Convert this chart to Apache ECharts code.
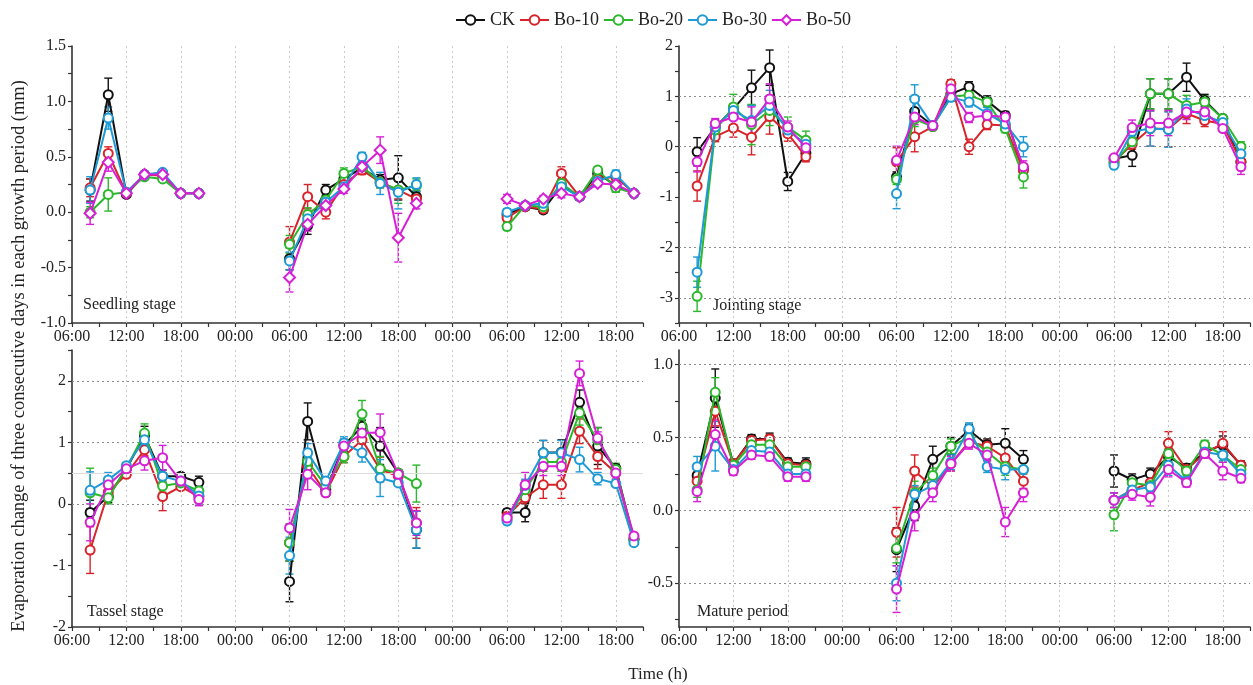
<!DOCTYPE html>
<html>
<head>
<meta charset="utf-8">
<script src="https://cdn.jsdelivr.net/npm/echarts@6/dist/echarts.min.js"></script>
<style>
  html, body { margin: 0; padding: 0; background: #fff; }
  #chart { width: 1253px; height: 685px; }
</style>
</head>
<body>
<div id="chart"></div>
<script>
// Sampling times, in hours counted from 06:00 on the first day
const timePoints = [2, 4, 6, 8, 10, 12, 14, 24, 26, 28, 30, 32, 34, 36, 38, 48, 50, 52, 54, 56, 58, 60, 62];
const dayLengths = [7, 8, 8];
const treatments = ['CK', 'Bo-10', 'Bo-20', 'Bo-30', 'Bo-50'];
const stageNames = ['Seedling stage', 'Jointing stage', 'Tassel stage', 'Mature period'];

// Seedling stage (mean and SD)
const seedlingCK     = [0.20, 1.06, 0.16, 0.34, 0.35, 0.17, 0.17, -0.42, -0.12, 0.20, 0.30, 0.40, 0.29, 0.31, 0.14, -0.02, 0.05, 0.02, 0.24, 0.14, 0.35, 0.24, 0.17];
const seedlingCKsd   = [0.10, 0.15, 0.02, 0.02, 0.02, 0.01, 0.01, 0.10, 0.08, 0.05, 0.04, 0.05, 0.05, 0.20, 0.05, 0.04, 0.03, 0.03, 0.04, 0.03, 0.03, 0.05, 0.02];
const seedlingB10    = [0.22, 0.53, 0.17, 0.34, 0.33, 0.17, 0.17, -0.27, 0.14, 0.00, 0.25, 0.38, 0.27, 0.20, 0.12, -0.05, 0.05, 0.03, 0.35, 0.14, 0.30, 0.32, 0.17];
const seedlingB10sd  = [0.08, 0.06, 0.02, 0.02, 0.02, 0.01, 0.01, 0.14, 0.11, 0.06, 0.04, 0.04, 0.05, 0.08, 0.04, 0.04, 0.03, 0.03, 0.06, 0.03, 0.03, 0.04, 0.02];
const seedlingB20    = [0.00, 0.16, 0.18, 0.32, 0.30, 0.17, 0.17, -0.29, -0.02, 0.11, 0.35, 0.41, 0.27, 0.20, 0.24, -0.13, 0.06, 0.05, 0.26, 0.14, 0.38, 0.22, 0.17];
const seedlingB20sd  = [0.05, 0.15, 0.02, 0.02, 0.02, 0.01, 0.01, 0.08, 0.06, 0.05, 0.05, 0.04, 0.05, 0.12, 0.06, 0.03, 0.03, 0.03, 0.04, 0.03, 0.03, 0.04, 0.02];
const seedlingB30    = [0.20, 0.85, 0.18, 0.34, 0.36, 0.17, 0.17, -0.44, -0.06, 0.09, 0.23, 0.50, 0.26, 0.18, 0.25, 0.00, 0.06, 0.08, 0.23, 0.14, 0.28, 0.34, 0.17];
const seedlingB30sd  = [0.12, 0.10, 0.02, 0.02, 0.02, 0.01, 0.01, 0.08, 0.06, 0.05, 0.04, 0.04, 0.10, 0.15, 0.06, 0.03, 0.03, 0.03, 0.05, 0.03, 0.03, 0.04, 0.02];
const seedlingB50    = [-0.01, 0.45, 0.17, 0.34, 0.34, 0.17, 0.17, -0.59, -0.11, 0.06, 0.21, 0.41, 0.56, -0.23, 0.08, 0.12, 0.06, 0.12, 0.17, 0.14, 0.26, 0.25, 0.17];
const seedlingB50sd  = [0.10, 0.08, 0.02, 0.02, 0.02, 0.01, 0.01, 0.13, 0.06, 0.04, 0.04, 0.04, 0.12, 0.22, 0.05, 0.04, 0.03, 0.03, 0.04, 0.03, 0.03, 0.04, 0.02];

// Jointing stage
const jointingCK     = [-0.10, 0.39, 0.75, 1.17, 1.57, -0.69, -0.13, -0.60, 0.70, 0.42, 1.05, 1.19, 0.91, 0.62, -0.44, -0.24, -0.17, 1.05, 1.05, 1.38, 0.92, 0.56, -0.30];
const jointingCKsd   = [0.28, 0.10, 0.10, 0.35, 0.35, 0.18, 0.10, 0.10, 0.20, 0.06, 0.10, 0.10, 0.10, 0.08, 0.10, 0.06, 0.22, 0.30, 0.30, 0.28, 0.12, 0.06, 0.10];
const jointingB10    = [-0.78, 0.20, 0.37, 0.19, 0.60, 0.26, -0.20, -0.30, 0.20, 0.40, 1.25, 0.00, 0.44, 0.42, -0.47, -0.30, 0.05, 0.36, 0.35, 0.66, 0.52, 0.45, -0.30];
const jointingB10sd  = [0.30, 0.10, 0.18, 0.35, 0.35, 0.15, 0.10, 0.28, 0.30, 0.06, 0.08, 0.15, 0.10, 0.08, 0.10, 0.06, 0.10, 0.35, 0.35, 0.20, 0.12, 0.06, 0.10];
const jointingB20    = [-2.97, 0.33, 0.79, 0.44, 0.72, 0.39, 0.13, -0.65, 0.55, 0.40, 1.00, 1.02, 0.89, 0.36, -0.60, -0.33, 0.10, 1.05, 1.05, 0.82, 0.89, 0.56, 0.00];
const jointingB20sd  = [0.30, 0.10, 0.25, 0.40, 0.30, 0.20, 0.18, 0.10, 0.15, 0.06, 0.08, 0.08, 0.10, 0.08, 0.22, 0.06, 0.12, 0.30, 0.30, 0.20, 0.12, 0.06, 0.10];
const jointingB30    = [-2.49, 0.39, 0.72, 0.52, 0.82, 0.33, 0.05, -0.93, 0.95, 0.42, 0.98, 0.89, 0.66, 0.45, 0.00, -0.37, 0.30, 0.36, 0.34, 0.75, 0.62, 0.48, -0.14];
const jointingB30sd  = [0.30, 0.15, 0.10, 0.30, 0.30, 0.12, 0.12, 0.30, 0.28, 0.06, 0.08, 0.10, 0.12, 0.08, 0.20, 0.06, 0.12, 0.35, 0.35, 0.20, 0.12, 0.06, 0.10];
const jointingB50    = [-0.30, 0.46, 0.59, 0.49, 0.95, 0.39, -0.02, -0.27, 0.59, 0.42, 1.15, 0.58, 0.62, 0.59, -0.40, -0.22, 0.38, 0.47, 0.47, 0.69, 0.69, 0.36, -0.40];
const jointingB50sd  = [0.20, 0.10, 0.15, 0.30, 0.30, 0.12, 0.10, 0.28, 0.15, 0.06, 0.08, 0.10, 0.10, 0.08, 0.12, 0.06, 0.15, 0.25, 0.25, 0.15, 0.10, 0.06, 0.15];

// Tassel stage
const tasselCK       = [-0.14, 0.12, 0.57, 1.11, 0.45, 0.45, 0.35, -1.26, 1.34, 0.23, 0.95, 1.26, 0.94, 0.50, -0.42, -0.14, -0.14, 0.83, 0.84, 1.65, 0.94, 0.58, -0.57];
const tasselCKsd     = [0.20, 0.10, 0.05, 0.15, 0.10, 0.05, 0.10, 0.33, 0.30, 0.05, 0.10, 0.10, 0.30, 0.05, 0.30, 0.05, 0.15, 0.20, 0.20, 0.20, 0.30, 0.05, 0.05];
const tasselB10      = [-0.75, 0.19, 0.48, 0.88, 0.12, 0.28, 0.12, -0.63, 0.61, 0.18, 0.77, 1.04, 0.56, 0.45, -0.31, -0.20, 0.10, 0.31, 0.31, 1.18, 0.77, 0.50, -0.58];
const tasselB10sd    = [0.38, 0.10, 0.05, 0.10, 0.23, 0.05, 0.10, 0.30, 0.15, 0.05, 0.10, 0.20, 0.20, 0.05, 0.25, 0.05, 0.10, 0.22, 0.22, 0.20, 0.20, 0.10, 0.05];
const tasselB20      = [0.18, 0.10, 0.58, 1.15, 0.29, 0.34, 0.21, -0.63, 0.69, 0.29, 0.77, 1.46, 0.57, 0.50, 0.33, -0.25, 0.23, 0.68, 0.68, 1.48, 1.04, 0.56, -0.58];
const tasselB20sd    = [0.40, 0.10, 0.05, 0.15, 0.10, 0.05, 0.10, 0.30, 0.20, 0.05, 0.10, 0.22, 0.20, 0.05, 0.30, 0.05, 0.15, 0.15, 0.15, 0.20, 0.20, 0.10, 0.05];
const tasselB30      = [0.22, 0.39, 0.62, 1.04, 0.45, 0.37, 0.13, -0.84, 0.83, 0.37, 0.99, 0.83, 0.42, 0.34, -0.42, -0.28, 0.30, 0.83, 0.83, 0.72, 0.41, 0.33, -0.63];
const tasselB30sd    = [0.30, 0.12, 0.05, 0.10, 0.10, 0.05, 0.15, 0.30, 0.15, 0.05, 0.10, 0.15, 0.30, 0.05, 0.30, 0.05, 0.10, 0.20, 0.20, 0.20, 0.10, 0.05, 0.05];
const tasselB50      = [-0.30, 0.31, 0.57, 0.70, 0.75, 0.37, 0.07, -0.39, 0.48, 0.18, 0.94, 1.15, 1.16, 0.48, -0.31, -0.23, 0.31, 0.61, 0.61, 2.12, 1.07, 0.50, -0.52];
const tasselB50sd    = [0.30, 0.12, 0.05, 0.15, 0.20, 0.05, 0.10, 0.30, 0.25, 0.05, 0.10, 0.15, 0.30, 0.05, 0.20, 0.05, 0.20, 0.15, 0.15, 0.20, 0.10, 0.10, 0.05];

// Mature period
const matureCK       = [0.24, 0.77, 0.32, 0.49, 0.49, 0.33, 0.32, -0.27, 0.03, 0.35, 0.44, 0.55, 0.45, 0.46, 0.35, 0.27, 0.21, 0.25, 0.37, 0.29, 0.40, 0.45, 0.31];
const matureCKsd     = [0.06, 0.20, 0.03, 0.03, 0.04, 0.03, 0.04, 0.15, 0.10, 0.09, 0.06, 0.04, 0.04, 0.10, 0.06, 0.11, 0.04, 0.04, 0.05, 0.03, 0.03, 0.06, 0.03];
const matureB10      = [0.20, 0.68, 0.32, 0.48, 0.49, 0.32, 0.31, -0.15, 0.27, 0.16, 0.32, 0.47, 0.44, 0.36, 0.20, 0.07, 0.14, 0.19, 0.46, 0.28, 0.39, 0.46, 0.31];
const matureB10sd    = [0.05, 0.10, 0.03, 0.03, 0.03, 0.03, 0.03, 0.17, 0.11, 0.05, 0.05, 0.04, 0.04, 0.08, 0.05, 0.05, 0.04, 0.04, 0.08, 0.03, 0.03, 0.08, 0.03];
const matureB20      = [0.14, 0.81, 0.31, 0.45, 0.45, 0.30, 0.30, -0.26, 0.12, 0.24, 0.44, 0.50, 0.40, 0.30, 0.28, -0.03, 0.19, 0.17, 0.39, 0.27, 0.45, 0.38, 0.28];
const matureB20sd    = [0.05, 0.10, 0.03, 0.03, 0.03, 0.03, 0.03, 0.10, 0.08, 0.05, 0.05, 0.04, 0.05, 0.06, 0.08, 0.11, 0.04, 0.04, 0.05, 0.03, 0.03, 0.05, 0.03];
const matureB30      = [0.30, 0.44, 0.28, 0.41, 0.40, 0.25, 0.25, -0.50, 0.11, 0.17, 0.33, 0.56, 0.30, 0.28, 0.28, 0.07, 0.14, 0.16, 0.31, 0.20, 0.40, 0.38, 0.25];
const matureB30sd    = [0.07, 0.17, 0.03, 0.03, 0.03, 0.03, 0.03, 0.12, 0.06, 0.05, 0.05, 0.04, 0.04, 0.07, 0.06, 0.05, 0.04, 0.04, 0.07, 0.03, 0.03, 0.04, 0.03];
const matureB50      = [0.13, 0.52, 0.27, 0.38, 0.37, 0.23, 0.23, -0.54, -0.04, 0.12, 0.32, 0.46, 0.38, -0.08, 0.12, 0.07, 0.11, 0.09, 0.28, 0.19, 0.39, 0.27, 0.22];
const matureB50sd    = [0.07, 0.10, 0.03, 0.03, 0.03, 0.03, 0.03, 0.16, 0.10, 0.06, 0.05, 0.04, 0.04, 0.10, 0.06, 0.05, 0.04, 0.06, 0.05, 0.03, 0.03, 0.06, 0.03];

// Axis ticks
const xLabelHours = [0, 6, 12, 18, 24, 30, 36, 42, 48, 54, 60];
const xTickHours  = [0, 3, 6, 9, 12, 15, 18, 21, 24, 27, 30, 33, 36, 39, 42, 45, 48, 51, 54, 57, 60, 63];
const seedlingYLabels = [-1.0, -0.5, 0.0, 0.5, 1.0, 1.5];
const seedlingYTicks  = [-1.0, -0.75, -0.5, -0.25, 0.0, 0.25, 0.5, 0.75, 1.0, 1.25, 1.5];
const jointingYLabels = [-3, -2, -1, 0, 1, 2];
const jointingYTicks  = [-3.5, -3, -2.5, -2, -1.5, -1, -0.5, 0, 0.5, 1, 1.5, 2];
const tasselYLabels   = [-2, -1, 0, 1, 2];
const tasselYTicks    = [-2, -1.5, -1, -0.5, 0, 0.5, 1, 1.5, 2, 2.5];
const matureYLabels   = [-0.5, 0.0, 0.5, 1.0];
const matureYTicks    = [-0.75, -0.5, -0.25, 0.0, 0.25, 0.5, 0.75, 1.0];

// Reference lines in each panel
const jointingHLines = [1, 0, -2, -3];
const tasselHLines   = [2, 1, 0];
const tasselFaintHLines = [0.5];
const matureHLines   = [1.0, 0.5, 0.0, -0.5];
const dayGridHours   = [6, 12, 18, 24, 30, 36, 42, 48, 54, 60];

const colors = ['#111111', '#d8232a', '#2cb82c', '#1e9ad6', '#d620d6'];
const FONT = '"Liberation Serif", "Times New Roman", serif';

const panels = [
  { stage: stageNames[0], yMin: -1.0, yMax: 1.5, yLabels: seedlingYLabels, yTicks: seedlingYTicks, digits: 1,
    grid: { left: 72, top: 46, width: 571, height: 277 },
    means: [seedlingCK, seedlingB10, seedlingB20, seedlingB30, seedlingB50],
    sds: [seedlingCKsd, seedlingB10sd, seedlingB20sd, seedlingB30sd, seedlingB50sd],
    hLines: [], faint: [], diamondLast: true, labelPos: [83, 297] },
  { stage: stageNames[1], yMin: -3.5, yMax: 2, yLabels: jointingYLabels, yTicks: jointingYTicks, digits: 0,
    grid: { left: 679, top: 46, width: 571, height: 277 },
    means: [jointingCK, jointingB10, jointingB20, jointingB30, jointingB50],
    sds: [jointingCKsd, jointingB10sd, jointingB20sd, jointingB30sd, jointingB50sd],
    hLines: jointingHLines, faint: [], diamondLast: false, labelPos: [713, 298] },
  { stage: stageNames[2], yMin: -2, yMax: 2.5, yLabels: tasselYLabels, yTicks: tasselYTicks, digits: 0,
    grid: { left: 72, top: 350, width: 571, height: 277 },
    means: [tasselCK, tasselB10, tasselB20, tasselB30, tasselB50],
    sds: [tasselCKsd, tasselB10sd, tasselB20sd, tasselB30sd, tasselB50sd],
    hLines: tasselHLines, faint: tasselFaintHLines, diamondLast: false, labelPos: [87, 604] },
  { stage: stageNames[3], yMin: -0.8, yMax: 1.1, yLabels: matureYLabels, yTicks: matureYTicks, digits: 1,
    grid: { left: 679, top: 350, width: 571, height: 277 },
    means: [matureCK, matureB10, matureB20, matureB30, matureB50],
    sds: [matureCKsd, matureB10sd, matureB20sd, matureB30sd, matureB50sd],
    hLines: matureHLines, faint: [], diamondLast: false, labelPos: [697, 604] }
];

function clockLabel(h) {
  const hh = (6 + h) % 24;
  return (hh < 10 ? '0' : '') + hh + ':00';
}

// Line data with a gap between consecutive days
function lineData(values) {
  const out = [];
  let k = 0;
  dayLengths.forEach((len, d) => {
    for (let i = 0; i < len; i++, k++) out.push([timePoints[k], values[k]]);
    if (d < dayLengths.length - 1) out.push([timePoints[k - 1] + 1, '-']);
  });
  return out;
}

function errorData(values, sds) {
  return values.map((v, i) => [timePoints[i], v - sds[i], v + sds[i]]);
}

function errorRenderer(color) {
  return function (params, api) {
    const x = api.value(0);
    const lo = api.coord([x, api.value(1)]);
    const hi = api.coord([x, api.value(2)]);
    const cap = 4;
    const style = { stroke: color, lineWidth: 1.4 };
    return {
      type: 'group',
      children: [
        { type: 'line', shape: { x1: lo[0], y1: lo[1], x2: hi[0], y2: hi[1] }, style },
        { type: 'line', shape: { x1: hi[0] - cap, y1: hi[1], x2: hi[0] + cap, y2: hi[1] }, style },
        { type: 'line', shape: { x1: lo[0] - cap, y1: lo[1], x2: lo[0] + cap, y2: lo[1] }, style }
      ]
    };
  };
}

const grids = [], xAxes = [], yAxes = [], lineSeries = [], barSeries = [], guideSeries = [], graphics = [];
const axisLineStyle = { color: '#333', width: 1.6 };

panels.forEach((p, pi) => {
  grids.push(Object.assign({ containLabel: false }, p.grid));
  xAxes.push({
    type: 'value', gridIndex: pi, min: 0, max: 63,
    axisLine: { show: true, onZero: false, lineStyle: axisLineStyle },
    axisTick: { show: true, customValues: xTickHours, length: 4, lineStyle: { color: '#333', width: 1.2 } },
    axisLabel: { customValues: xLabelHours, formatter: clockLabel, color: '#222', fontFamily: FONT, fontSize: 16, margin: 6 },
    splitLine: { show: false }
  });
  yAxes.push({
    type: 'value', gridIndex: pi, min: p.yMin, max: p.yMax,
    axisLine: { show: true, onZero: false, lineStyle: axisLineStyle },
    axisTick: { show: true, customValues: p.yTicks, length: 4, lineStyle: { color: '#333', width: 1.2 } },
    axisLabel: { customValues: p.yLabels, formatter: v => Number(v).toFixed(p.digits), color: '#222', fontFamily: FONT, fontSize: 16, margin: 6 },
    splitLine: { show: false }
  });

  // dotted guide lines
  const mlData = [];
  dayGridHours.forEach(h => mlData.push({ xAxis: h, lineStyle: { color: '#cacaca', type: [2, 3], width: 1 } }));
  p.hLines.forEach(v => mlData.push({ yAxis: v, lineStyle: { color: '#8c8c8c', type: [2, 3], width: 1 } }));
  p.faint.forEach(v => mlData.push({ yAxis: v, lineStyle: { color: '#dcdcdc', type: 'solid', width: 1 } }));
  guideSeries.push({
    type: 'line', xAxisIndex: pi, yAxisIndex: pi, data: [], silent: true, z: 1,
    markLine: { silent: true, symbol: ['none', 'none'], label: { show: false }, animation: false, data: mlData }
  });

  treatments.forEach((name, ti) => {
    const isDiamond = p.diamondLast && ti === 4;
    lineSeries.push({
      type: 'line', name, xAxisIndex: pi, yAxisIndex: pi,
      data: lineData(p.means[ti]), connectNulls: false,
      symbol: isDiamond ? 'emptyDiamond' : 'emptyCircle', symbolSize: isDiamond ? 11 : 9,
      color: colors[ti],
      itemStyle: { borderWidth: 1.4 },
      lineStyle: { width: 2, color: colors[ti] },
      z: 3 + ti
    });
    barSeries.push({
      type: 'custom', name, xAxisIndex: pi, yAxisIndex: pi,
      data: errorData(p.means[ti], p.sds[ti]),
      encode: { x: 0, y: [1, 2] },
      renderItem: errorRenderer(colors[ti]),
      z: 2
    });
  });

  graphics.push({
    type: 'text', left: p.labelPos[0], top: p.labelPos[1],
    style: { text: p.stage, font: '16px ' + FONT, fill: '#222' }
  });
});

graphics.push({
  type: 'text', x: 19, y: 356, rotation: Math.PI / 2,
  style: { text: 'Evaporation change of three consecutive days in each growth period (mm)',
           font: '18.5px ' + FONT, fill: '#222', align: 'center', verticalAlign: 'middle' }
});
graphics.push({
  type: 'text', x: 658, y: 675,
  style: { text: 'Time (h)', font: '17px ' + FONT, fill: '#222', align: 'center', verticalAlign: 'middle' }
});

const chart = echarts.init(document.getElementById('chart'), null, { renderer: 'canvas' });
chart.setOption({
  animation: false,
  backgroundColor: '#ffffff',
  legend: {
    data: treatments, left: 450, top: 6, itemWidth: 29, itemHeight: 12, itemGap: 4,
    textStyle: { fontFamily: FONT, fontSize: 18, color: '#222' }
  },
  grid: grids,
  xAxis: xAxes,
  yAxis: yAxes,
  graphic: graphics,
  series: lineSeries.concat(barSeries, guideSeries)
});
</script>
</body>
</html>
